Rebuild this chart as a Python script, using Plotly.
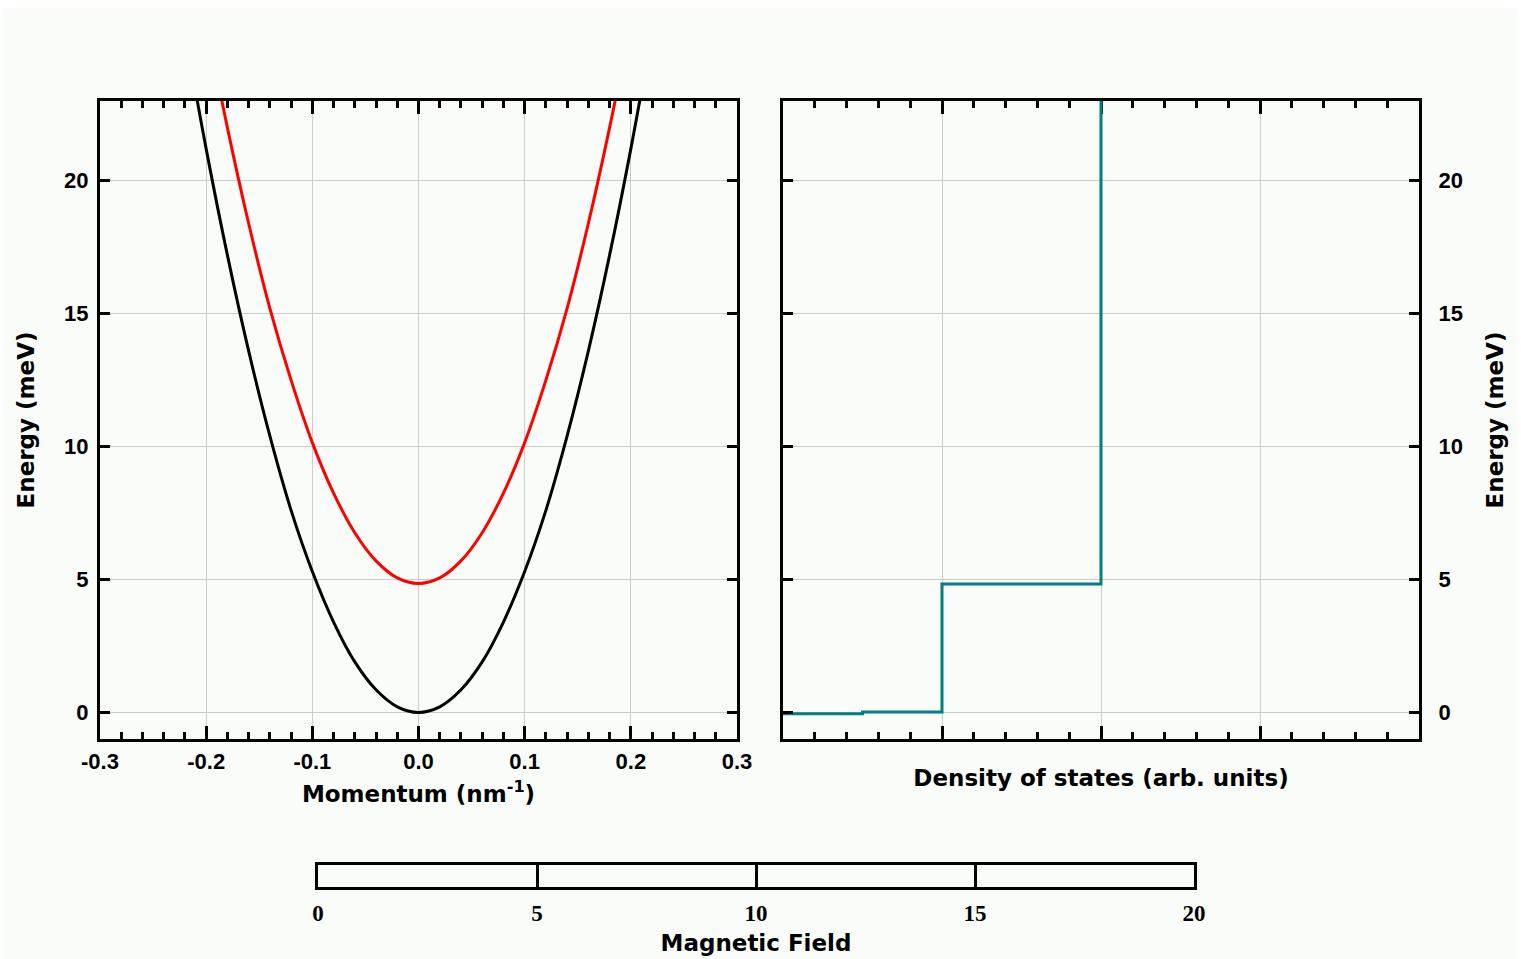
import plotly.graph_objects as go

# ---- data ----
momentum = [-0.22, -0.20, -0.18, -0.16, -0.14, -0.12, -0.10, -0.08, -0.06, -0.04, -0.02, 0.00,
            0.02, 0.04, 0.06, 0.08, 0.10, 0.12, 0.14, 0.16, 0.18, 0.20, 0.22]
energy_lower = [25.6, 21.2, 17.2, 13.6, 10.4, 7.6, 5.3, 3.4, 1.9, 0.85, 0.21, 0.0,
                0.21, 0.85, 1.9, 3.4, 5.3, 7.6, 10.4, 13.6, 17.2, 21.2, 25.6]
energy_upper = [30.5, 26.0, 22.0, 18.4, 15.2, 12.5, 10.15, 8.25, 6.76, 5.70, 5.06, 4.85,
                5.06, 5.70, 6.76, 8.25, 10.15, 12.5, 15.2, 18.4, 22.0, 26.0, 30.5]
dos_value = [0.0, 0.5, 0.5, 1.0, 1.0, 2.0, 2.0]
dos_energy = [-0.05, -0.05, 0.02, 0.02, 4.83, 4.83, 23.5]
k_tickvals = [-0.3, -0.2, -0.1, 0.0, 0.1, 0.2, 0.3]
k_ticklabels = ['-0.3', '-0.2', '-0.1', '0.0', '0.1', '0.2', '0.3']
e_tickvals = [0, 5, 10, 15, 20]
field_ticks = [0, 5, 10, 15, 20]

W, H = 1521, 959
ML, MR, MT, MB = 100, 102, 101, 72
PW, PH = W - ML - MR, H - MT - MB
BG = '#fafcf9'
GRID = '#cccccc'
TICKFONT = dict(family='Liberation Sans, Arial', size=22, color='black', weight='bold')
TITLEFONT = dict(family='DejaVu Sans, Arial', size=23, color='black', weight='bold')


def dom_x(a, b):
    return [(a - ML) / PW, (b - ML) / PW]


def dom_y(top, bottom):
    return [max(0, (H - MB - bottom) / PH), min(1, (H - MB - top) / PH)]


def paper_x(px):
    return (px - ML) / PW


def paper_y(py):
    return (H - MB - py) / PH


fig = go.Figure()
fig.add_trace(go.Scatter(x=momentum, y=energy_lower, mode='lines', line=dict(color='black', width=3, shape='spline'),
                         xaxis='x', yaxis='y', showlegend=False))
fig.add_trace(go.Scatter(x=momentum, y=energy_upper, mode='lines', line=dict(color='#ff0000', width=3, shape='spline'),
                         xaxis='x', yaxis='y', showlegend=False))
fig.add_trace(go.Scatter(x=dos_value, y=dos_energy, mode='lines', line=dict(color='#008080', width=3),
                         xaxis='x2', yaxis='y2', showlegend=False))
fig.add_trace(go.Scatter(x=[field_ticks[0], field_ticks[-1]], y=[0.5, 0.5], mode='lines',
                         line=dict(color='rgba(0,0,0,0)', width=0), hoverinfo='skip',
                         xaxis='x3', yaxis='y3', showlegend=False))

common = dict(showline=True, linecolor='black', linewidth=3, mirror='allticks', ticks='inside',
              tickcolor='black', tickwidth=3, zeroline=False, showgrid=True, gridcolor=GRID, gridwidth=1,
              tickfont=TICKFONT, automargin=False)

# thin white page border around the light panel, white slider interior
border_shapes = [
    dict(type='rect', xref='paper', yref='paper', x0=paper_x(0), x1=paper_x(W), y0=paper_y(8), y1=paper_y(0),
         fillcolor='white', line=dict(width=0), layer='below'),
    dict(type='rect', xref='paper', yref='paper', x0=paper_x(0), x1=paper_x(3), y0=paper_y(H), y1=paper_y(0),
         fillcolor='white', line=dict(width=0), layer='below'),
    dict(type='rect', xref='paper', yref='paper', x0=paper_x(W - 4), x1=paper_x(W), y0=paper_y(H), y1=paper_y(0),
         fillcolor='white', line=dict(width=0), layer='below'),
]

fig.update_layout(
    width=W, height=H, margin=dict(l=ML, r=MR, t=MT, b=MB), autosize=False,
    paper_bgcolor=BG, plot_bgcolor=BG, shapes=border_shapes,
    xaxis=dict(domain=dom_x(100, 737), range=[-0.3, 0.3], tickvals=k_tickvals, ticktext=k_ticklabels,
               ticklen=13, minor=dict(dtick=0.02, ticklen=7, tickwidth=3, tickcolor='black', ticks='inside', showgrid=False),
               ticklabelstandoff=1, anchor='y',
               title=dict(text='Momentum (nm<sup>-1</sup>)', font=TITLEFONT, standoff=13), **common),
    yaxis=dict(domain=dom_y(101, 739), range=[-1, 23], tickvals=e_tickvals, ticklen=10, anchor='x',
               ticklabelstandoff=4,
               title=dict(text='Energy (meV)', font=TITLEFONT, standoff=24), **common),
    xaxis2=dict(domain=dom_x(783, 1419), range=[0, 4], dtick=1, ticklen=13, showticklabels=False, anchor='y2',
                minor=dict(dtick=0.2, ticklen=7, tickwidth=3, tickcolor='black', ticks='inside', showgrid=False),
                layer='below traces',
                title=dict(text='Density of states (arb. units)', font=TITLEFONT, standoff=29), **common),
    yaxis2=dict(domain=dom_y(101, 739), range=[-1, 23], tickvals=e_tickvals, ticklen=10, anchor='x2', side='right',
                ticklabelstandoff=12,
                title=dict(text='Energy (meV)', font=TITLEFONT, standoff=26), **common),
    xaxis3=dict(domain=dom_x(318, 1194), range=[0, 20], tickvals=field_ticks, ticks='', anchor='y3',
                showline=True, linecolor='black', linewidth=3, mirror=True, zeroline=False,
                showgrid=True, gridcolor='black', gridwidth=3, automargin=False,
                tickfont=dict(family='Liberation Serif, Times New Roman', size=23, color='black', weight='bold'),
                ticklabelstandoff=3,
                title=dict(text='Magnetic Field', font=TITLEFONT, standoff=11)),
    yaxis3=dict(domain=dom_y(865, 887), range=[0, 1], showticklabels=False, ticks='', anchor='x3',
                showline=True, linecolor='black', linewidth=3, mirror=True, zeroline=False, showgrid=False,
                automargin=False),
)

fig.write_html('out.html')
